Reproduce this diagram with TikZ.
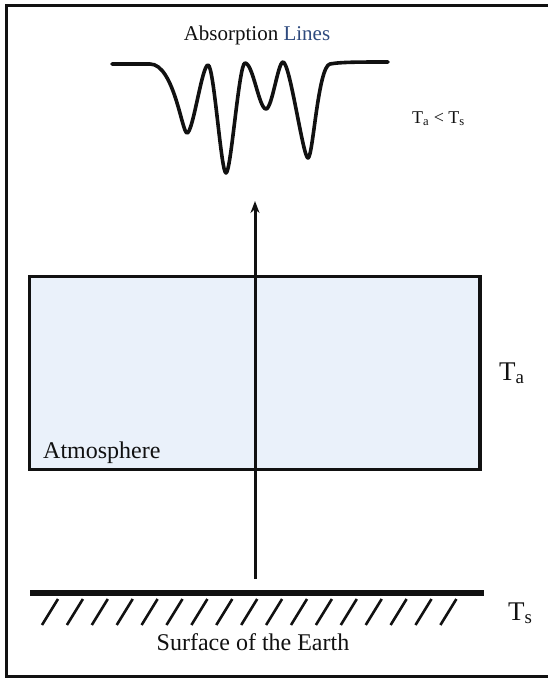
\documentclass[tikz,border=0pt]{standalone}
\usepackage{fontspec}
\setmainfont{Liberation Serif}
\usepackage{xcolor}
\usetikzlibrary{arrows.meta,positioning,calc}
\definecolor{ink}{HTML}{111111}
\definecolor{lineblue}{HTML}{2E4A7E}
\definecolor{airfill}{HTML}{EAF1FA}
\tikzset{
  frame/.style={draw=ink,line width=2.6pt},
  airbox/.style={draw=ink,fill=airfill,line width=3.6pt},
  ground/.style={draw=ink,line width=5.5pt},
  hatch/.style={draw=ink,line width=2.6pt},
  spectrum/.style={draw=ink,line width=3.6pt,line cap=round,line join=round},
  label/.style={text=ink,inner sep=0pt,font=\fontsize{21}{24}\selectfont},
  biglabel/.style={text=ink,inner sep=0pt,font=\fontsize{24}{28}\selectfont},
  smalllabel/.style={text=ink,inner sep=0pt,font=\fontsize{18}{20}\selectfont},
  rayarr/.style={-{Stealth[length=12pt,width=9pt]},draw=ink,line width=3pt}
}
\begin{document}
\begin{tikzpicture}[x=1pt,y=-1pt]
  \useasboundingbox (0,0) rectangle (548,678);
  \draw[frame] (6.5,5.5) rectangle (556,676.5);
  % atmosphere layer
  \draw[airbox] (29.5,276.5) rectangle (480,469.5);
  \node[biglabel,anchor=base west] (atm) at (43,458) {Atmosphere};
  \node[biglabel,font=\fontsize{27}{30}\selectfont,anchor=base west] (ta) at (499,380) {T\textsubscript{a}};
  % ground
  \draw[ground] (30,593) -- (484,593);
  \foreach \i in {0,...,16}
    \draw[hatch] ({42+24.9*\i},625) -- ({58+24.9*\i},599);
  \node[biglabel,font=\fontsize{27}{30}\selectfont,anchor=base west] (ts) at (508,620) {T\textsubscript{s}};
  \node[biglabel,anchor=base] (surface) at (253,650) {Surface of the Earth};
  % radiation going up
  \coordinate (src) at (255,579);
  \coordinate (tip) at (255,201);
  \draw[rayarr] (src) -- (tip);
  % absorption spectrum
  \node[label,anchor=base] (title) at (257,40) {Absorption \textcolor{lineblue}{Lines}};
  \node[smalllabel,anchor=base west] (ratio) at (412,123) {T\textsubscript{a} < T\textsubscript{s}};
  \draw[spectrum] (112,64) -- (150,64)
    .. controls (174,64) and (182,133) .. (187,133)
    .. controls (193,133) and (202,65) .. (208,65)
    .. controls (214,65) and (221,173) .. (226,173)
    .. controls (231,173) and (239,63) .. (245,63)
    .. controls (253,63) and (259,109) .. (266,109)
    .. controls (272,109) and (278,62) .. (283,62)
    .. controls (290,62) and (303,158) .. (308,158)
    .. controls (313,158) and (318,66) .. (330,64)
    .. controls (340,62) and (360,62) .. (388,62);
\end{tikzpicture}
\end{document}
